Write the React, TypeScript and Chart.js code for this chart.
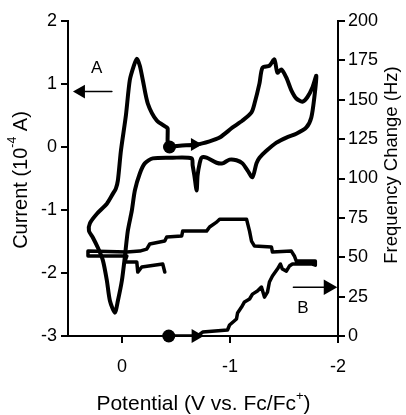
import { useEffect, useRef } from 'react';
import { Chart, registerables } from 'chart.js';

Chart.register(...registerables);

// ---- Data ----
// Cyclic voltammogram: potential (V vs Fc/Fc+) and current (10^-4 A)
const cvPotential = [
  -0.44, -0.534, -0.691, -0.811, -0.904, -1.024, -1.116, -1.199, -1.227, -1.273, -1.301,
  -1.365, -1.411, -1.439, -1.476, -1.522, -1.568, -1.614, -1.67, -1.716, -1.762, -1.799,
  -1.781, -1.753, -1.707, -1.614, -1.522, -1.43, -1.337, -1.273, -1.245, -1.208,
  -1.162, -1.116, -1.06, -0.996, -0.931, -0.876, -0.783, -0.737, -0.719, -0.7,
  -0.691, -0.67, -0.654, -0.645, -0.47, -0.285, -0.211, -0.165, -0.119, -0.091,
  -0.054, -0.026, 0.001, 0.038, 0.066, 0.112, 0.14, 0.177, 0.223, 0.269,
  0.306, 0.297, 0.232, 0.14, 0.084, 0.057, 0.038, 0.01, -0.036, -0.072,
  -0.11, -0.137, -0.165, -0.193, -0.239, -0.322, -0.414, -0.423, -0.423, -0.44,
];
const cvCurrent = [
  0.0, 0.02, 0.04, 0.09, 0.15, 0.31, 0.42, 0.55, 0.69, 1.01, 1.26,
  1.29, 1.39, 1.18, 1.23, 1.1, 0.9, 0.77, 0.72, 0.79, 0.94, 1.13,
  0.79, 0.47, 0.31, 0.21, 0.15, 0.07, -0.06, -0.17, -0.26, -0.48,
  -0.37, -0.26, -0.21, -0.2, -0.26, -0.25, -0.17, -0.17, -0.26, -0.45,
  -0.69, -0.45, -0.29, -0.18, -0.17, -0.18, -0.26, -0.42, -0.69, -1.01,
  -1.33, -1.75, -2.12, -2.44, -2.63, -2.44, -2.12, -1.8, -1.6, -1.44,
  -1.33, -1.21, -1.06, -0.9, -0.74, -0.66, -0.53, -0.06, 0.5, 1.06,
  1.29, 1.4, 1.29, 1.06, 0.69, 0.42, 0.31, 0.29, 0.06, 0.0,
];

// Frequency change (Hz) versus potential
const freqPotential = [
  -0.423, -0.7, -0.747, -0.977, -0.996, -1.06, -1.07, -1.107, -1.134, -1.181,
  -1.208, -1.254, -1.291, -1.319, -1.347, -1.365, -1.393, -1.439, -1.467, -1.485,
  -1.522, -1.55, -1.578, -1.762, -1.79, -1.79, -1.614, -1.596, -1.568, -1.393,
  -1.384, -1.227, -1.199, -1.181, -1.153, -0.904, -0.876, -0.811, -0.783, -0.562,
  -0.553, -0.414, -0.396, -0.257, -0.229, -0.165, -0.045, 0.315, 0.315, -0.045,
  -0.026, -0.137, -0.146, -0.183, -0.377, -0.396,
];
const freqChange = [
  0, 0, 2.5, 3.8, 7.0, 10.8, 14.6, 18.4, 21.6, 23.5,
  26.6, 28.6, 31.1, 24.7, 27.9, 34.3, 38.1, 42.5, 45.7, 42.5,
  41.2, 44.4, 45.7, 45.7, 45.0, 47.6, 47.6, 50.8, 53.9, 53.3,
  56.5, 57.1, 60.3, 66.6, 74.2, 74.2, 72.3, 69.2, 66.6, 66.6,
  63.5, 62.8, 60.3, 58.4, 55.2, 53.9, 53.3, 53.9, 50.8, 50.8,
  47.0, 47.0, 40.6, 43.8, 45.7, 40.6,
];

// Start markers and direction arrowheads
const cvStartPoint = [-0.44, 0.0];
const cvArrowPoint = [-0.673, 0.04];
const freqStartPoint = [-0.433, 0];
const freqArrowPoint = [-0.682, 0];

// Axis-pointer arrows "A" (current axis) and "B" (frequency axis)
const arrowAPotential = [0.094, 0.38];
const arrowACurrent = [0.88, 0.88];
const arrowBPotential = [-1.587, -1.91];
const arrowBFreq = [31, 31];
const labelA = { text: 'A', x: 0.234, y: 1.254 };
const labelB = { text: 'B', x: -1.676, y: 17.8 };

// Ticks
const xTicks = [0, -1, -2];
const currentTicks = [2, 1, 0, -1, -2, -3];
const freqTicks = [200, 175, 150, 125, 100, 75, 50, 25, 0];

const FONT = '"Liberation Sans", Arial, Helvetica, sans-serif';

type Part = { t: string; sup?: boolean };

function drawRich(ctx: CanvasRenderingContext2D, parts: Part[], x: number, y: number, rot: number, size: number) {
  ctx.save();
  ctx.translate(x, y);
  ctx.rotate(rot);
  ctx.textBaseline = 'middle';
  ctx.textAlign = 'left';
  const supSize = size * 0.62;
  let total = 0;
  const widths = parts.map((p) => {
    ctx.font = `${p.sup ? supSize : size}px ${FONT}`;
    const w = ctx.measureText(p.t).width;
    total += w;
    return w;
  });
  let cur = -total / 2;
  parts.forEach((p, i) => {
    ctx.font = `${p.sup ? supSize : size}px ${FONT}`;
    ctx.fillText(p.t, cur, p.sup ? -size * 0.4 : 0);
    cur += widths[i];
  });
  ctx.restore();
}

const textPlugin = {
  id: 'textPlugin',
  afterDraw(chart: any) {
    const ctx: CanvasRenderingContext2D = chart.ctx;
    const sx = chart.scales.x;
    const sy = chart.scales.y;
    const sy1 = chart.scales.y1;
    ctx.save();
    ctx.fillStyle = '#000';
    drawRich(ctx, [{ t: 'Current (10' }, { t: '-4', sup: true }, { t: ' A)' }], 21, 180, -Math.PI / 2, 20);
    drawRich(ctx, [{ t: 'Frequency Change (Hz)' }], 392, 165, -Math.PI / 2, 18.5);
    drawRich(ctx, [{ t: 'Potential (V vs. Fc/Fc' }, { t: '+', sup: true }, { t: ')' }], 203.5, 404.5, 0, 21);
    ctx.font = `17px ${FONT}`;
    ctx.textAlign = 'center';
    ctx.textBaseline = 'middle';
    ctx.fillText(labelA.text, sx.getPixelForValue(labelA.x), sy.getPixelForValue(labelA.y));
    ctx.fillText(labelB.text, sx.getPixelForValue(labelB.x), sy1.getPixelForValue(labelB.y));
    ctx.restore();
  },
};

const toXY = (xs: number[], ys: number[]) => xs.map((x, i) => ({ x, y: ys[i] }));

export default function App() {
  const ref = useRef<HTMLCanvasElement | null>(null);

  useEffect(() => {
    document.body.style.margin = '0';
    if (!ref.current) return;
    const lineBase = {
      showLine: true,
      pointRadius: 0,
      borderColor: '#000',
      backgroundColor: '#000',
      borderJoinStyle: 'round' as const,
      borderCapStyle: 'round' as const,
    };
    const chart = new Chart(ref.current, {
      type: 'scatter',
      data: {
        datasets: [
          { ...lineBase, data: toXY(cvPotential, cvCurrent), borderWidth: 4, tension: 0.25, yAxisID: 'y' },
          { ...lineBase, data: toXY(freqPotential, freqChange), borderWidth: 3.5, tension: 0, yAxisID: 'y1' },
          { ...lineBase, data: toXY(arrowAPotential, arrowACurrent), borderWidth: 1.5, yAxisID: 'y', clip: false },
          { ...lineBase, data: toXY(arrowBPotential, arrowBFreq), borderWidth: 1.5, yAxisID: 'y1', clip: false },
          {
            showLine: false, data: [{ x: cvStartPoint[0], y: cvStartPoint[1] }], yAxisID: 'y',
            pointStyle: 'circle', pointRadius: 6.5, backgroundColor: '#000', borderColor: '#000', borderWidth: 0,
          },
          {
            showLine: false, data: [{ x: freqStartPoint[0], y: freqStartPoint[1] }], yAxisID: 'y1',
            pointStyle: 'circle', pointRadius: 6.5, backgroundColor: '#000', borderColor: '#000', borderWidth: 0, clip: false,
          },
          {
            showLine: false, data: [{ x: cvArrowPoint[0], y: cvArrowPoint[1] }], yAxisID: 'y',
            pointStyle: 'triangle', pointRotation: 90, pointRadius: 7.5, backgroundColor: '#000', borderColor: '#000', borderWidth: 0,
          },
          {
            showLine: false, data: [{ x: freqArrowPoint[0], y: freqArrowPoint[1] }], yAxisID: 'y1',
            pointStyle: 'triangle', pointRotation: 90, pointRadius: 8, backgroundColor: '#000', borderColor: '#000', borderWidth: 0, clip: false,
          },
          {
            showLine: false, data: [{ x: arrowAPotential[1], y: arrowACurrent[1] }], yAxisID: 'y',
            pointStyle: 'triangle', pointRotation: 270, pointRadius: 8, backgroundColor: '#000', borderColor: '#000', borderWidth: 0, clip: false,
          },
          {
            showLine: false, data: [{ x: arrowBPotential[1], y: arrowBFreq[1] }], yAxisID: 'y1',
            pointStyle: 'triangle', pointRotation: 90, pointRadius: 9, backgroundColor: '#000', borderColor: '#000', borderWidth: 0, clip: false,
          },
        ],
      },
      options: {
        animation: false,
        responsive: false,
        events: [],
        layout: { padding: { top: 21, left: 0, right: 0, bottom: 0 } },
        plugins: { legend: { display: false }, tooltip: { enabled: false }, title: { display: false } },
        scales: {
          x: {
            type: 'linear',
            position: 'bottom',
            min: -2,
            max: 0.5,
            reverse: true,
            afterBuildTicks: (s: any) => { s.ticks = xTicks.map((v) => ({ value: v })); },
            afterFit: (s: any) => { s.height = 79; },
            grid: { drawOnChartArea: false, drawTicks: true, tickLength: 7, color: '#000', lineWidth: 2 },
            border: { display: true, color: '#000', width: 2 },
            ticks: { color: '#000', font: { size: 18, family: FONT }, padding: 13, maxRotation: 0, callback: (v: any) => String(v) },
          },
          y: {
            type: 'linear',
            position: 'left',
            min: -3,
            max: 2,
            afterBuildTicks: (s: any) => { s.ticks = currentTicks.map((v) => ({ value: v })); },
            afterFit: (s: any) => { s.width = 68; },
            grid: { drawOnChartArea: false, drawTicks: true, tickLength: 7, color: '#000', lineWidth: 2 },
            border: { display: true, color: '#000', width: 2 },
            ticks: { color: '#000', font: { size: 18, family: FONT }, padding: 4, callback: (v: any) => String(v) },
          },
          y1: {
            type: 'linear',
            position: 'right',
            min: 0,
            max: 200,
            afterBuildTicks: (s: any) => { s.ticks = freqTicks.map((v) => ({ value: v })); },
            afterFit: (s: any) => { s.width = 68; },
            grid: { drawOnChartArea: false, drawTicks: true, tickLength: 7, color: '#000', lineWidth: 2 },
            border: { display: true, color: '#000', width: 2 },
            ticks: { color: '#000', font: { size: 18, family: FONT }, padding: 3, callback: (v: any) => String(v) },
          },
        },
      },
      plugins: [textPlugin],
    });
    return () => chart.destroy();
  }, []);

  return (
    <div style={{ width: 406, height: 415, position: 'relative' }}>
      <canvas ref={ref} width={406} height={415} style={{ display: 'block', width: 406, height: 415 }} />
    </div>
  );
}
